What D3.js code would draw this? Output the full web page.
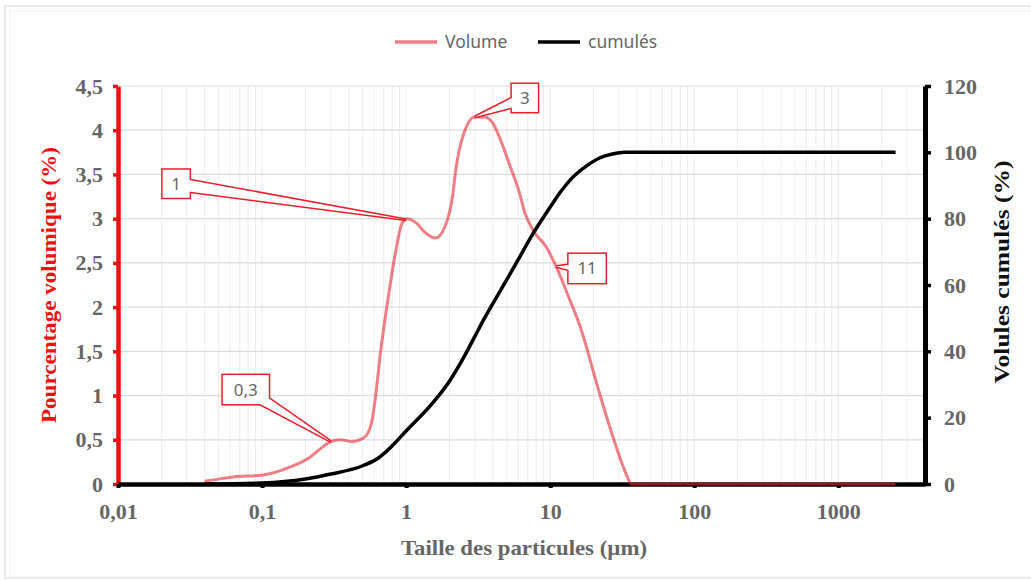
<!DOCTYPE html>
<html>
<head>
<meta charset="utf-8">
<script src="https://cdn.jsdelivr.net/npm/d3@7"></script>
<style>
  body { margin: 0; background: #fff; }
  svg { display: block; }
</style>
</head>
<body>
<div id="chart"></div>
<script>
// particle sizes (µm) and the two series
const sizes = [0.04, 0.063, 0.1, 0.156, 0.214, 0.264, 0.3, 0.35, 0.42, 0.475, 0.53, 0.585, 0.62, 0.66, 0.75, 0.83, 0.94, 1.02, 1.18, 1.34, 1.6, 1.85, 2.1, 2.22, 2.5, 3, 3.5, 4, 4.5, 5.2, 6.1, 6.7, 7.6, 9.4, 11, 13.7, 16, 21.7, 27.7, 32.8, 36.8, 100, 1000, 2500];
const volume = [0.03, 0.08, 0.1, 0.19, 0.3, 0.42, 0.48, 0.5, 0.48, 0.5, 0.55, 0.75, 1.05, 1.45, 2.1, 2.55, 2.95, 3.0, 2.95, 2.85, 2.78, 2.9, 3.25, 3.57, 3.95, 4.15, 4.15, 4.08, 3.9, 3.62, 3.3, 3.06, 2.87, 2.68, 2.46, 2.08, 1.8, 1.06, 0.5, 0.16, 0, 0, 0, 0];

const cumSizes = [0.04, 0.1, 0.2, 0.3, 0.5, 0.65, 0.8, 1, 1.5, 2, 2.5, 3, 3.5, 4.4, 5.8, 7.6, 10, 12, 14, 18, 22, 27, 33, 100, 1000, 2500];
const cumulative = [0, 0.3, 1.5, 3, 5.5, 8, 11.5, 16, 24, 31, 38, 44.5, 50, 57.5, 66.5, 75.5, 83.5, 88.5, 92, 96, 98.3, 99.5, 100, 100, 100, 100];

const xTicks = [0.01, 0.1, 1, 10, 100, 1000];
const yLeftTicks = [0, 0.5, 1, 1.5, 2, 2.5, 3, 3.5, 4, 4.5];
const yRightTicks = [0, 20, 40, 60, 80, 100, 120];

// callouts on the volume curve (label = particle size)
const calloutX = [0.3, 1, 3, 11];

const W = 1031, H = 582;
const plotL = 118, plotR = 925, plotT = 86, plotB = 484;

const svg = d3.select("#chart").append("svg")
  .attr("width", W).attr("height", H);

// faint frame
svg.append("rect").attr("x", 5).attr("y", 6).attr("width", 1040).attr("height", 572)
  .attr("fill", "none").attr("stroke", "#e4e4e4").attr("stroke-width", 1.5);
svg.append("rect").attr("x", 10).attr("y", 11).attr("width", 1040).attr("height", 566)
  .attr("fill", "none").attr("stroke", "#efefef").attr("stroke-width", 1);

const x = d3.scaleLog().domain([0.01, 4000]).range([plotL, plotR]);
const yL = d3.scaleLinear().domain([0, 4.5]).range([plotB, plotT]);
const yR = d3.scaleLinear().domain([0, 120]).range([plotB, plotT]);

const comma = d => String(d).replace(".", ",");

// gridlines
const minor = [];
for (let d = 0.01; d <= 1000; d *= 10) {
  for (let k = 1; k <= 9; k++) {
    const v = k * d;
    if (v > 0.0101 && v < 4000) minor.push(v);
  }
}
svg.append("g").selectAll("line").data(minor).join("line")
  .attr("x1", d => x(d)).attr("x2", d => x(d))
  .attr("y1", plotT).attr("y2", plotB)
  .attr("stroke", "#ececec").attr("stroke-width", 1);
svg.append("g").selectAll("line").data(yLeftTicks.slice(1)).join("line")
  .attr("x1", plotL).attr("x2", plotR)
  .attr("y1", d => yL(d)).attr("y2", d => yL(d))
  .attr("stroke", "#dcdcdc").attr("stroke-width", 1.2);

const tickFont = "'Liberation Serif', 'Times New Roman', serif";

// left axis
const gL = svg.append("g").attr("transform", `translate(${plotL},0)`)
  .call(d3.axisLeft(yL).tickValues(yLeftTicks).tickFormat(comma).tickSize(5).tickSizeOuter(0).tickPadding(10));
gL.select(".domain").attr("stroke", "#ee1111").attr("stroke-width", 4.5);
gL.selectAll(".tick line").attr("stroke", "#ee1111").attr("stroke-width", 3.5);

// right axis
const gR = svg.append("g").attr("transform", `translate(${plotR},0)`)
  .call(d3.axisRight(yR).tickValues(yRightTicks).tickSize(6).tickSizeOuter(0).tickPadding(13));
gR.select(".domain").attr("stroke", "#000").attr("stroke-width", 5);
gR.selectAll(".tick line").attr("stroke", "#000").attr("stroke-width", 3.5);

// bottom axis
const gX = svg.append("g").attr("transform", `translate(0,${plotB})`)
  .call(d3.axisBottom(x).tickValues(xTicks).tickFormat(comma).tickSize(4).tickSizeOuter(0).tickPadding(15));
gX.select(".domain").attr("stroke", "#000").attr("stroke-width", 4.5);
gX.selectAll(".tick line").attr("stroke", "#000").attr("stroke-width", 4);

svg.selectAll(".tick text")
  .attr("font-family", tickFont).attr("font-size", 22).attr("font-weight", "bold")
  .attr("fill", "#666");

// axis titles
svg.append("text")
  .attr("transform", "translate(56,285) rotate(-90)")
  .attr("text-anchor", "middle")
  .attr("font-family", tickFont).attr("font-size", 21).attr("font-weight", "bold")
  .attr("fill", "#ee1111")
  .attr("textLength", 276).attr("lengthAdjust", "spacingAndGlyphs")
  .text("Pourcentage volumique (%)");

svg.append("text")
  .attr("transform", "translate(1009,272) rotate(-90)")
  .attr("text-anchor", "middle")
  .attr("font-family", tickFont).attr("font-size", 21).attr("font-weight", "bold")
  .attr("fill", "#111")
  .attr("textLength", 223).attr("lengthAdjust", "spacingAndGlyphs")
  .text("Volules cumulés (%)");

svg.append("text")
  .attr("x", 524).attr("y", 555)
  .attr("text-anchor", "middle")
  .attr("font-family", tickFont).attr("font-size", 21).attr("font-weight", "bold")
  .attr("fill", "#666")
  .attr("textLength", 246).attr("lengthAdjust", "spacingAndGlyphs")
  .text("Taille des particules (µm)");

// series
const pink = "rgb(230,40,55)";
const volLine = d3.line().x(d => x(d[0])).y(d => yL(d[1])).curve(d3.curveMonotoneX);
const cumLine = d3.line().x(d => x(d[0])).y(d => yR(d[1])).curve(d3.curveMonotoneX);

svg.append("path")
  .datum(sizes.map((s, i) => [s, volume[i]]))
  .attr("d", volLine)
  .attr("fill", "none").attr("stroke", pink).attr("stroke-opacity", 0.6).attr("stroke-width", 3);

svg.append("path")
  .datum(cumSizes.map((s, i) => [s, cumulative[i]]))
  .attr("d", cumLine)
  .attr("fill", "none").attr("stroke", "#000").attr("stroke-width", 3.5);

// callouts: box offsets relative to the pointed data point
const calloutBox = {
  "0.3": { dx: -85, dy: -52, w: 46, h: 29 },
  "1":   { dx: -230, dy: -36, w: 27, h: 28 },
  "3":   { dx: 50, dy: -19, w: 26, h: 28 },
  "11":  { dx: 31, dy: 2, w: 37, h: 29 }
};

function interpVol(v) {
  const i = d3.bisectLeft(sizes, v);
  if (sizes[i] === v) return volume[i];
  const a = sizes[i - 1], b = sizes[i];
  const t = (Math.log(v) - Math.log(a)) / (Math.log(b) - Math.log(a));
  return volume[i - 1] + t * (volume[i] - volume[i - 1]);
}

const gC = svg.append("g");
calloutX.forEach(v => {
  const px = x(v), py = yL(interpVol(v));
  const b = calloutBox[String(v)];
  const cx = px + b.dx, cy = py + b.dy;
  const ang = Math.atan2(py - cy, px - cx);
  const hw = 6;
  const nx = -Math.sin(ang) * hw, ny = Math.cos(ang) * hw;
  const tri = `M${cx + nx},${cy + ny}L${px},${py}L${cx - nx},${cy - ny}Z`;
  const g = gC.append("g");
  // outline of the union: thick red stroke, then white fills on top
  g.append("path").attr("d", tri).attr("fill", "none").attr("stroke", "#e8202c").attr("stroke-width", 3).attr("stroke-linejoin", "miter");
  g.append("rect").attr("x", cx - b.w / 2).attr("y", cy - b.h / 2).attr("width", b.w).attr("height", b.h)
    .attr("fill", "none").attr("stroke", "#e8202c").attr("stroke-width", 3);
  g.append("path").attr("d", tri).attr("fill", "#fff");
  g.append("rect").attr("x", cx - b.w / 2).attr("y", cy - b.h / 2).attr("width", b.w).attr("height", b.h).attr("fill", "#fff");
  g.append("text").attr("x", cx).attr("y", cy + 6)
    .attr("text-anchor", "middle")
    .attr("font-family", "'Noto Sans', 'Open Sans', sans-serif").attr("font-size", 17)
    .attr("fill", "#666").text(comma(v));
});

// legend
const legend = [
  { name: "Volume", color: pink, op: 0.6, x0: 395 },
  { name: "cumulés", color: "#000", op: 1, x0: 538 }
];
const gLeg = svg.append("g");
legend.forEach(l => {
  gLeg.append("line").attr("x1", l.x0).attr("x2", l.x0 + 42).attr("y1", 42).attr("y2", 42)
    .attr("stroke", l.color).attr("stroke-opacity", l.op).attr("stroke-width", 3.5);
  gLeg.append("text").attr("x", l.x0 + 50).attr("y", 48)
    .attr("font-family", "'Noto Sans', 'Open Sans', sans-serif").attr("font-size", 17.5)
    .attr("fill", "#666").text(l.name);
});
</script>
</body>
</html>
